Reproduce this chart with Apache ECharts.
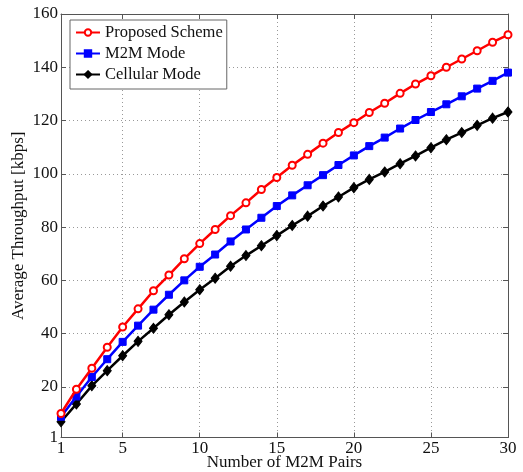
<!DOCTYPE html>
<html>
<head>
<meta charset="utf-8">
<script src="https://cdn.jsdelivr.net/npm/echarts@6/dist/echarts.min.js"></script>
<style>
  html, body { margin: 0; padding: 0; background: #fff; }
  #chart { width: 523px; height: 472px; }
</style>
</head>
<body>
<div id="chart"></div>
<script>
// Number of M2M pairs on the x axis
const pairs = [1,2,3,4,5,6,7,8,9,10,11,12,13,14,15,16,17,18,19,20,21,22,23,24,25,26,27,28,29,30];

// Average throughput [kbps] per scheme
const proposedScheme = [10.0,19.1,27.0,34.9,42.5,49.3,56.1,62.0,68.1,73.8,79.1,84.3,89.1,94.1,98.6,103.2,107.3,111.5,115.5,119.2,123.0,126.5,130.2,133.7,136.8,140.0,143.1,146.2,149.4,152.2];
const m2mMode = [8.8,16.4,23.7,30.4,36.9,43.0,49.0,54.6,60.0,65.1,69.7,74.6,79.1,83.5,87.9,91.9,95.7,99.5,103.3,106.9,110.4,113.6,117.0,120.2,123.2,126.1,129.1,132.0,134.9,138.0];
const cellularMode = [6.9,13.6,20.4,26.1,31.7,37.1,42.0,47.1,51.9,56.5,60.8,65.3,69.3,73.0,76.8,80.6,84.1,87.9,91.3,94.8,97.9,100.7,103.8,106.7,109.8,112.8,115.5,118.2,120.9,123.2];

// Tick positions shown on the axes
const xTicks = [1,5,10,15,20,25,30];
const yTicks = [1,20,40,60,80,100,120,140,160];

const FONT = 'Liberation Serif';

function pairsOf(values) {
  return pairs.map((p, i) => [p, values[i]]);
}

function mainAxisCommon(ticks) {
  return {
    type: 'value',
    axisLine: { show: true, onZero: false, lineStyle: { color: '#555', width: 1 } },
    axisTick: { show: true, inside: true, length: 5, customValues: ticks, lineStyle: { color: '#555' } },
    axisLabel: { show: true, customValues: ticks, margin: 3, color: '#111', fontFamily: FONT, fontSize: 17 },
    splitLine: { show: true, lineStyle: { color: '#999', type: [1, 3], width: 1 } },
    nameMoveOverlap: false,
    nameTextStyle: { color: '#111', fontFamily: FONT, fontSize: 17 }
  };
}

function mirrorAxis(ticks) {
  return {
    type: 'value',
    axisLine: { show: true, onZero: false, lineStyle: { color: '#555', width: 1 } },
    axisTick: { show: true, inside: true, length: 5, customValues: ticks, lineStyle: { color: '#555' } },
    axisLabel: { show: false },
    splitLine: { show: false }
  };
}

const chart = echarts.init(document.getElementById('chart'), null, { renderer: 'canvas' });

chart.setOption({
  animation: false,
  backgroundColor: '#fff',
  grid: { left: 61, right: 15, top: 14, bottom: 34.5, containLabel: false, outerBoundsMode: 'none' },
  legend: {
    orient: 'vertical',
    left: 70,
    top: 20,
    padding: [4, 4, 6, 5],
    itemGap: 4,
    itemWidth: 24,
    itemHeight: 8,
    backgroundColor: '#fff',
    borderColor: '#666',
    borderWidth: 1,
    borderRadius: 0,
    textStyle: { color: '#111', fontFamily: FONT, fontSize: 16.5 },
    data: ['Proposed Scheme', 'M2M Mode', 'Cellular Mode']
  },
  xAxis: [
    Object.assign(mainAxisCommon(xTicks), {
      min: 1, max: 30, position: 'bottom',
      name: 'Number of M2M Pairs', nameLocation: 'middle', nameGap: 17
    }),
    Object.assign(mirrorAxis(xTicks), { min: 1, max: 30, position: 'top' })
  ],
  yAxis: [
    Object.assign(mainAxisCommon(yTicks), {
      min: 1, max: 160, position: 'left',
      name: 'Average Throughput [kbps]', nameLocation: 'middle', nameGap: 34
    }),
    Object.assign(mirrorAxis(yTicks), { min: 1, max: 160, position: 'right' })
  ],
  series: [
    {
      name: 'Proposed Scheme', type: 'line', data: pairsOf(proposedScheme),
      symbol: 'circle', symbolSize: 7,
      lineStyle: { color: '#ff0000', width: 2.5 },
      itemStyle: { color: '#ffffff', borderColor: '#ff0000', borderWidth: 2 },
      z: 4
    },
    {
      name: 'M2M Mode', type: 'line', data: pairsOf(m2mMode),
      symbol: 'rect', symbolSize: 7,
      lineStyle: { color: '#0000ff', width: 2.5 },
      itemStyle: { color: '#0000ff', borderColor: '#0000ff', borderWidth: 1 },
      z: 3
    },
    {
      name: 'Cellular Mode', type: 'line', data: pairsOf(cellularMode),
      symbol: 'diamond', symbolSize: [8, 10],
      lineStyle: { color: '#000000', width: 2.5 },
      itemStyle: { color: '#000000', borderColor: '#000000', borderWidth: 1 },
      z: 2
    }
  ]
});
</script>
</body>
</html>
